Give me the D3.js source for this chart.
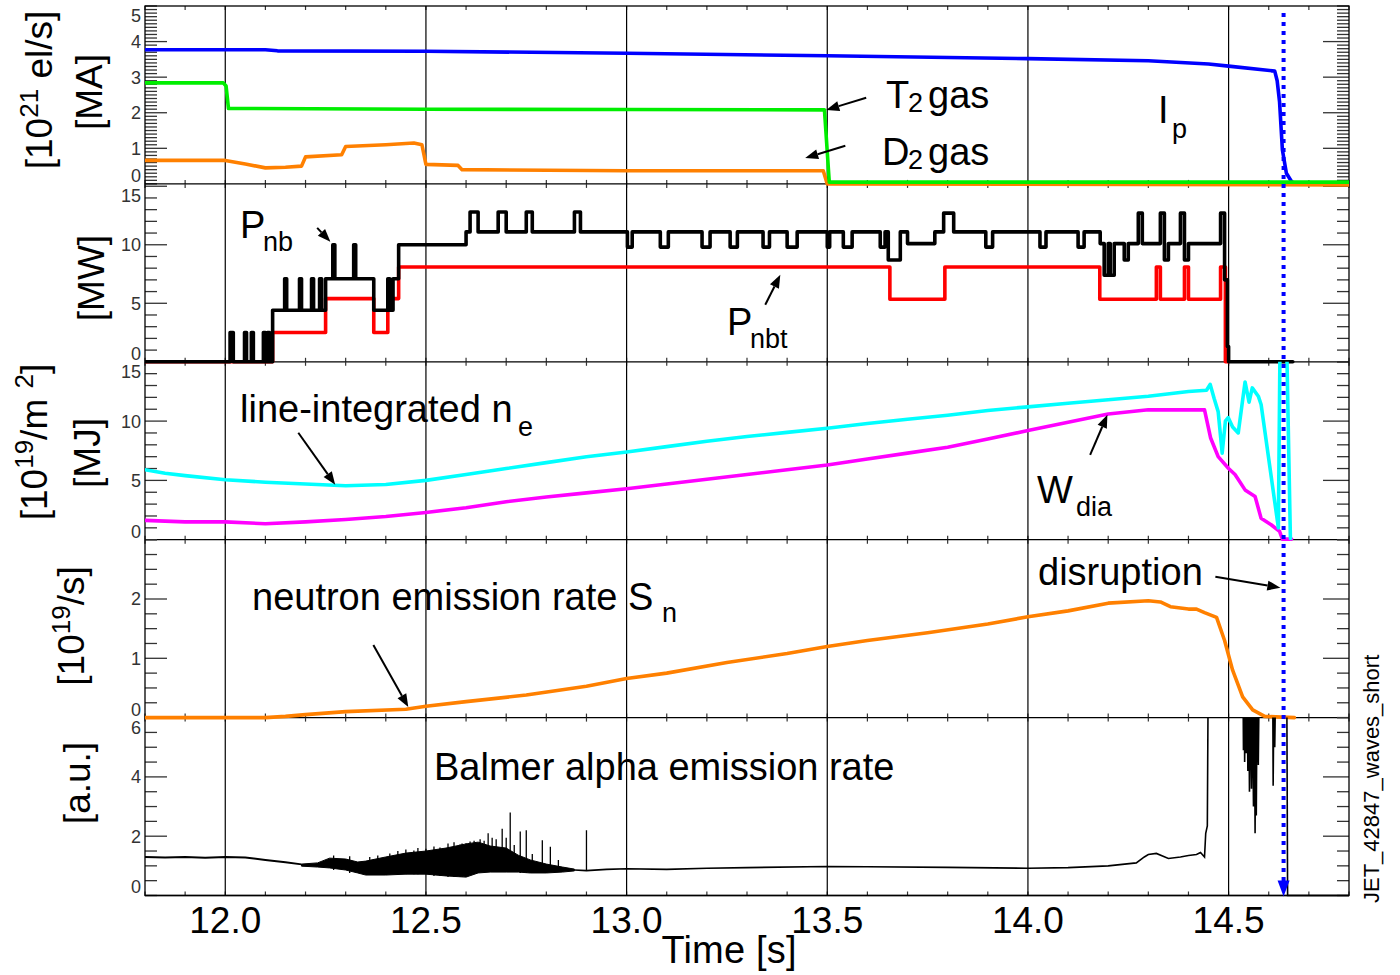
<!DOCTYPE html>
<html><head><meta charset="utf-8">
<script src="https://cdn.jsdelivr.net/npm/d3@7"></script>
<style>body{margin:0;background:#fff}svg{display:block}</style>
</head><body>
<svg id="chart" width="1400" height="975"></svg>
<script>
// ---------------- DATA ----------------
const timeDomain = [11.8, 14.8];
const tDisruption = 14.637;
const xTickLabels = ["12.0","12.5","13.0","13.5","14.0","14.5"];
const xTickValues = [12.0,12.5,13.0,13.5,14.0,14.5];

// Panel 1 : plasma current and gas fuelling
const ipCurrent = [[11.8,3.77],[12.1,3.77],[12.13,3.74],[12.5,3.73],[13.0,3.67],[13.5,3.6],[14.0,3.52],[14.3,3.46],[14.45,3.37],[14.5,3.31],[14.615,3.17],[14.621,2.9],[14.627,2.3],[14.634,0.96],[14.644,0.3],[14.656,0.08],[14.662,0.02]];
const t2Gas = [[11.8,2.84],[11.995,2.84],[12.002,2.75],[12.008,2.12],[12.5,2.1],[13.0,2.09],[13.493,2.08],[13.505,0.05],[14.8,0.05]];
const d2Gas = [[11.8,0.66],[12.0,0.66],[12.05,0.56],[12.1,0.45],[12.15,0.47],[12.19,0.5],[12.2,0.76],[12.29,0.82],[12.3,1.05],[12.4,1.1],[12.47,1.15],[12.49,1.1],[12.5,0.55],[12.58,0.52],[12.59,0.4],[13.0,0.37],[13.49,0.37],[13.5,0.0],[14.8,-0.03]];

// Panel 2 : neutral beam power (step after)
const pnbTotal = [[11.8,0],[12.012,2.5],[12.02,0],[12.048,2.5],[12.053,0],[12.065,2.5],[12.07,0],[12.095,2.5],[12.1,0],[12.105,2.5],[12.11,0],[12.118,4.4],
 [12.148,7.1],[12.153,4.4],[12.185,7.1],[12.19,4.4],[12.215,7.1],[12.22,4.4],[12.235,7.1],[12.24,4.4],
 [12.25,7.1],[12.268,10],[12.273,7.1],[12.32,10],[12.325,7.1],[12.37,4.4],[12.405,7.1],[12.41,4.4],[12.418,7.1],[12.432,10],
 [12.6,11.1],[12.61,12.8],[12.63,11.1],[12.68,12.8],[12.7,11.1],[12.75,12.8],[12.765,11.1],[12.87,12.8],[12.885,11.1],
 [13.002,9.8],[13.014,11.1],[13.084,9.8],[13.104,11.1],[13.188,9.8],[13.208,11.1],[13.258,9.8],[13.276,11.1],[13.34,9.8],[13.356,11.1],
 [13.4,9.8],[13.425,11.1],[13.5,9.8],[13.506,11.1],[13.54,9.8],[13.562,11.1],[13.632,9.8],[13.644,11.1],[13.652,8.7],[13.682,11.1],
 [13.7,10.1],[13.768,11.1],[13.79,12.7],[13.815,11.1],[13.895,9.8],[13.912,11.1],[14.03,9.8],[14.045,11.1],[14.125,9.8],[14.14,11.1],
 [14.18,10.1],[14.19,7.4],[14.2,10.1],[14.205,7.4],[14.215,10.1],[14.24,8.7],[14.25,10.1],[14.275,12.7],[14.285,10.1],[14.33,12.7],[14.34,8.7],[14.35,10.1],
 [14.38,12.7],[14.39,8.7],[14.4,10.1],[14.48,12.7],[14.49,7.0],[14.497,1.3],[14.5,0],[14.66,0]];
const pnbTritium = [[11.8,0],[12.118,2.5],[12.25,5.4],[12.37,2.5],[12.405,5.4],[12.432,8.1],[13.656,5.35],[13.793,8.1],[14.179,5.35],[14.32,8.1],[14.33,5.35],[14.39,8.1],[14.4,5.35],[14.48,8.1],[14.492,0],[14.5,0]];

// Panel 3 : line-integrated density and diamagnetic energy
const neLine = [[11.8,5.9],[11.85,5.6],[11.9,5.4],[12.0,5.05],[12.1,4.85],[12.2,4.7],[12.3,4.55],[12.4,4.65],[12.5,5.0],[12.6,5.5],[12.7,6.0],[12.8,6.5],[12.9,7.0],[13.0,7.4],[13.1,7.85],[13.2,8.3],[13.3,8.7],[13.4,9.05],[13.5,9.4],[13.6,9.8],[13.7,10.15],[13.8,10.5],[13.9,10.9],[14.0,11.2],[14.1,11.5],[14.2,11.8],[14.3,12.1],[14.4,12.5],[14.445,12.6],[14.454,13.1],[14.464,11.9],[14.474,10.8],[14.484,7.3],[14.492,10.0],[14.499,10.3],[14.51,9.5],[14.524,9.0],[14.541,13.3],[14.551,11.6],[14.559,12.8],[14.574,12.1],[14.581,11.4],[14.624,1.0],[14.628,16],[14.645,16],[14.654,0.1]];
const wDia = [[11.8,1.63],[11.9,1.5],[12.0,1.5],[12.1,1.35],[12.2,1.5],[12.3,1.7],[12.4,1.95],[12.5,2.3],[12.6,2.7],[12.7,3.2],[12.8,3.6],[12.9,3.95],[13.0,4.3],[13.1,4.7],[13.2,5.1],[13.3,5.5],[13.4,5.9],[13.5,6.3],[13.6,6.8],[13.7,7.3],[13.8,7.8],[13.9,8.5],[14.0,9.2],[14.1,9.9],[14.2,10.6],[14.3,10.95],[14.44,10.95],[14.455,8.6],[14.474,7.0],[14.5,6.0],[14.516,5.5],[14.541,4.2],[14.566,3.65],[14.581,1.8],[14.606,1.26],[14.627,0.7],[14.634,0.05],[14.657,0.05]];

// Panel 4 : neutron emission rate
const neutronRate = [[11.8,0],[12.1,0],[12.15,0.02],[12.2,0.05],[12.3,0.1],[12.45,0.14],[12.5,0.19],[12.6,0.27],[12.75,0.38],[12.9,0.53],[13.0,0.66],[13.1,0.75],[13.25,0.93],[13.4,1.08],[13.5,1.2],[13.6,1.3],[13.75,1.43],[13.9,1.58],[14.0,1.7],[14.1,1.8],[14.2,1.93],[14.3,1.97],[14.33,1.95],[14.355,1.87],[14.4,1.83],[14.42,1.83],[14.44,1.77],[14.47,1.69],[14.49,1.3],[14.51,0.8],[14.535,0.35],[14.56,0.13],[14.59,0.02],[14.664,0.0]];

// Panel 5 : Balmer alpha
const balmerBefore = [[11.8,1.3],[11.85,1.28],[11.9,1.3],[11.95,1.27],[12.0,1.3],[12.05,1.28],[12.1,1.2],[12.15,1.12],[12.19,1.05]];
const balmerBandT  = [12.19,12.23,12.26,12.3,12.33,12.35,12.4,12.45,12.5,12.55,12.6,12.63,12.66,12.7,12.73,12.76,12.8,12.84,12.87];
const balmerBandHi = [1.06,1.1,1.26,1.23,1.13,1.16,1.3,1.43,1.5,1.6,1.74,1.8,1.67,1.6,1.36,1.2,1.06,0.96,0.89];
const balmerBandLo = [0.99,0.96,0.93,0.86,0.76,0.69,0.69,0.72,0.72,0.66,0.62,0.76,0.79,0.79,0.79,0.76,0.76,0.79,0.83];
const balmerSpikes = [[12.27,1.35],[12.31,1.32],[12.36,1.3],[12.38,1.35],[12.41,1.42],[12.43,1.5],[12.45,1.55],[12.47,1.52],[12.48,1.6],[12.5,1.58],[12.52,1.65],[12.535,1.62],[12.555,1.75],[12.57,1.8],[12.585,1.72],[12.59,1.75],[12.6,1.76],[12.61,1.82],[12.62,1.85],[12.635,1.9],[12.645,1.85],[12.655,2.1],[12.665,1.95],[12.675,1.9],[12.69,2.25],[12.7,1.95],[12.71,2.8],[12.72,1.7],[12.735,2.16],[12.75,2.2],[12.765,1.4],[12.79,1.86],[12.81,1.64],[12.83,1.2],[12.9,2.2]];
const balmerAfter = [[12.87,0.86],[12.9,0.84],[12.95,0.88],[13.0,0.9],[13.1,0.88],[13.2,0.92],[13.3,0.94],[13.5,0.98],[13.6,0.97],[13.8,0.95],[14.0,0.92],[14.1,0.94],[14.2,1.0],[14.27,1.1],[14.29,1.3],[14.3,1.38],[14.32,1.42],[14.35,1.25],[14.38,1.3],[14.4,1.35],[14.42,1.38],[14.43,1.45],[14.44,1.3],[14.443,2.1],[14.447,2.35],[14.449,7],
 [14.536,7],[14.537,4.9],[14.539,7],[14.54,4.5],[14.542,7],[14.544,4.8],[14.546,7],[14.548,4.2],[14.55,7],[14.552,3.5],[14.554,7],[14.557,3.6],[14.559,7],[14.562,3.0],[14.564,7],[14.566,2.1],[14.568,7],[14.569,2.7],[14.571,7],[14.574,4.4],[14.576,7],
 [14.61,7],[14.611,3.7],[14.613,7],[14.615,5.0],[14.617,7],[14.645,7],[14.647,0],[14.8,0]];

// Axis labels
const p1Labels=[0,1,2,3,4,5], p2Labels=[0,5,10,15], p3Labels=[0,5,10,15], p4Labels=[0,1,2], p5Labels=[0,2,4,6];

// ---------------- LAYOUT ----------------
const svg = d3.select("#chart");
const FONT = "'Liberation Sans', Arial, Helvetica, sans-serif";
const L = 145, R = 1349, TOP = 6, PH = 177.9;
const x = d3.scaleLinear().domain(timeDomain).range([L, R]);
const panelTop = i => TOP + i*PH;
const yDomains = [[0,5],[0,15.2],[0,15],[0,3],[0,6]];
const ys = yDomains.map((d,i)=>d3.scaleLinear().domain(d).range([panelTop(i)+PH, panelTop(i)]));
const majorStep = [1,5,5,1,2], minorStep=[0.1,1,1,0.25,0.5];
const labels = [p1Labels,p2Labels,p3Labels,p4Labels,p5Labels];
const BOT = panelTop(5);

const defs = svg.append("defs");
ys.forEach((y,i)=>{
  defs.append("clipPath").attr("id","clip"+i).append("rect")
    .attr("x",L).attr("y",panelTop(i)).attr("width",R-L).attr("height",PH+3);
});

const axisColor = "#000";
ys.forEach((y,i)=>{
  const g = svg.append("g");
  const [d0,d1] = y.domain();
  const minors = d3.range(d0, d1+1e-9, minorStep[i]);
  minors.forEach(v=>{
    const isMajor = Math.abs(v/majorStep[i]-Math.round(v/majorStep[i]))<1e-6 && v>d0 && v<d1;
    const len = isMajor?22:12, lenR = isMajor?26:12;
    g.append("line").attr("x1",L).attr("x2",L+len).attr("y1",y(v)).attr("y2",y(v)).attr("stroke","#333").attr("stroke-width",1.3);
    g.append("line").attr("x1",R-lenR).attr("x2",R).attr("y1",y(v)).attr("y2",y(v)).attr("stroke","#333").attr("stroke-width",1.3);
  });
  labels[i].forEach(v=>{
    let yy = y(v);
    if (v===d0) yy -= 8.5; if (Math.abs(v-d1)<0.3) yy += 9.5;
    g.append("text").attr("x",141).attr("y",yy).attr("dy","0.36em").attr("text-anchor","end")
      .attr("font-family",FONT).attr("font-size",18).attr("fill","#333").text(v);
  });
  d3.range(11.8,14.801,0.1).forEach(t=>{
    g.append("line").attr("x1",x(t)).attr("x2",x(t)).attr("y1",panelTop(i)).attr("y2",panelTop(i)+4).attr("stroke","#333").attr("stroke-width",1.2);
    g.append("line").attr("x1",x(t)).attr("x2",x(t)).attr("y1",panelTop(i)+PH-4).attr("y2",panelTop(i)+PH).attr("stroke","#333").attr("stroke-width",1.2);
  });
  g.append("line").attr("x1",L).attr("x2",R).attr("y1",panelTop(i)+PH).attr("y2",panelTop(i)+PH).attr("stroke",axisColor).attr("stroke-width",1.3);
});
svg.append("rect").attr("x",L).attr("y",TOP).attr("width",R-L).attr("height",BOT-TOP).attr("fill","none").attr("stroke",axisColor).attr("stroke-width",1.3);
xTickValues.forEach(t=>{
  svg.append("line").attr("x1",x(t)).attr("x2",x(t)).attr("y1",TOP).attr("y2",BOT).attr("stroke","#000").attr("stroke-width",1.2);
});
xTickValues.forEach((t,i)=>{
  svg.append("text").attr("x",x(t)).attr("y",933).attr("text-anchor","middle").attr("font-family",FONT).attr("font-size",37).text(xTickLabels[i]);
});
svg.append("text").attr("x",729).attr("y",963).attr("text-anchor","middle").attr("font-family",FONT).attr("font-size",38)
  .attr("textLength",135).attr("lengthAdjust","spacing").text("Time [s]");

// ---------------- CURVES ----------------
function drawLine(i, data, color, w, curve){
  const y = ys[i];
  const gen = d3.line().x(d=>x(d[0])).y(d=>y(d[1])).curve(curve||d3.curveLinear);
  svg.append("path").attr("clip-path",`url(#clip${i})`).attr("d",gen(data)).attr("fill","none")
    .attr("stroke",color).attr("stroke-width",w).attr("stroke-linejoin","round").attr("stroke-linecap","round");
}
const LW = 3.6;
drawLine(0, ipCurrent, "#0000ff", LW);
drawLine(0, d2Gas, "#ff8000", LW);
drawLine(0, t2Gas, "#00ee00", LW);
drawLine(1, pnbTritium, "#ff0000", LW, d3.curveStepAfter);
drawLine(1, pnbTotal, "#000000", LW, d3.curveStepAfter);
drawLine(2, wDia, "#ff00ff", LW);
drawLine(2, neLine, "#00ffff", LW);
drawLine(3, neutronRate, "#ff8000", LW);

// Balmer
{
  const y = ys[4];
  const area = d3.area().x((d,k)=>x(balmerBandT[k])).y0((d,k)=>y(balmerBandLo[k])).y1((d,k)=>y(balmerBandHi[k]));
  svg.append("path").attr("clip-path","url(#clip4)").attr("d",area(balmerBandT)).attr("fill","#000").attr("stroke","#000").attr("stroke-width",1);
  const gen = d3.line().x(d=>x(d[0])).y(d=>y(d[1]));
  svg.append("path").attr("clip-path","url(#clip4)").attr("d",gen(balmerBefore)).attr("fill","none").attr("stroke","#000").attr("stroke-width",2);
  svg.append("path").attr("clip-path","url(#clip4)").attr("d",gen(balmerAfter)).attr("fill","none").attr("stroke","#000").attr("stroke-width",1.6);
  const loAt = t => { const k = Math.min(d3.bisectLeft(balmerBandT, t), balmerBandT.length-1); return balmerBandLo[k]; };
  balmerSpikes.forEach(s=>{
    const base = s[0] <= balmerBandT[balmerBandT.length-1] ? loAt(s[0]) : 0.86;
    svg.append("line").attr("clip-path","url(#clip4)").attr("x1",x(s[0])).attr("x2",x(s[0])).attr("y1",y(base)).attr("y2",y(s[1])).attr("stroke","#000").attr("stroke-width",1.3);
  });
}

// disruption marker
{
  const xd = x(tDisruption);
  svg.append("line").attr("x1",xd).attr("x2",xd).attr("y1",13).attr("y2",BOT-14).attr("stroke","#0000ff")
    .attr("stroke-width",4).attr("stroke-dasharray","4,5");
  svg.append("path").attr("d",`M${xd-6},${BOT-15}L${xd+6},${BOT-15}L${xd},${BOT+1}Z`).attr("fill","#0000ff");
}

// ---------------- ANNOTATIONS ----------------
function arrow(i, from, to){
  const y = ys[i];
  const x1=x(from[0]), y1=y(from[1]), x2=x(to[0]), y2=y(to[1]);
  const a = Math.atan2(y2-y1, x2-x1), hl=13, hw=5;
  const bx = x2 - hl*Math.cos(a), by = y2 - hl*Math.sin(a);
  svg.append("line").attr("x1",x1).attr("y1",y1).attr("x2",bx).attr("y2",by).attr("stroke","#000").attr("stroke-width",2);
  svg.append("path").attr("d",`M${x2},${y2}L${bx+hw*Math.sin(a)},${by-hw*Math.cos(a)}L${bx-hw*Math.sin(a)},${by+hw*Math.cos(a)}Z`).attr("fill","#000");
}
arrow(0,[13.597,2.42],[13.4975,2.08]);
arrow(0,[13.545,1.07],[13.445,0.73]);
arrow(1,[12.229,11.44],[12.262,10.25]);
arrow(1,[13.3455,4.87],[13.383,7.43]);
arrow(2,[12.182,9.02],[12.274,4.63]);
arrow(2,[14.155,7.16],[14.198,10.53]);
arrow(3,[12.369,1.225],[12.456,0.177]);
arrow(3,[14.467,2.375],[14.629,2.19]);

const AF = 38;
function txt(xp, yp, s, size){
  return svg.append("text").attr("x",xp).attr("y",yp).attr("font-family",FONT).attr("font-size",size||AF).attr("fill","#000").text(s);
}
txt(886,108,"T"); txt(908,112,"2",27); txt(928,108,"gas");
txt(882,165,"D"); txt(908,169,"2",27); txt(928,165,"gas");
txt(1158,123,"I"); txt(1172,138,"p",27);
txt(240,238,"P"); txt(263,251,"nb",27);
txt(727,335,"P"); txt(750,348,"nbt",27);
txt(240,422,"line-integrated n"); txt(518,436,"e",27);
txt(1037,503,"W"); txt(1076,516,"dia",27);
txt(1038,585,"disruption");
txt(252,610,"neutron emission rate S"); txt(662,622,"n",27);
txt(434,780,"Balmer alpha emission rate");

function rot(xb, yc, parts){
  const t = svg.append("text").attr("transform",`translate(${xb},${yc}) rotate(-90)`).attr("text-anchor","middle").attr("font-family",FONT).attr("font-size",37);
  parts.forEach(p=>{ t.append("tspan").attr("font-size",p[1]||37).attr("dy",p[2]||0).text(p[0]); });
}
rot(52,90,[["[10"],["21",26,-14],[" el/s]",37,14]]);
rot(102,92,[["[MA]"]]);
rot(104,278,[["[MW]"]]);
rot(47,442,[["[10"],["19",26,-14],["/m ",37,14],["2",26,-14],["]",37,14]]);
rot(100,453,[["[MJ]"]]);
rot(84,626,[["[10"],["19",26,-14],["/s]",37,14]]);
rot(90,783,[["[a.u.]"]]);
svg.append("text").attr("transform","translate(1379,903) rotate(-90)").attr("font-family",FONT).attr("font-size",22).text("JET_42847_waves_short");
</script>
</body></html>
